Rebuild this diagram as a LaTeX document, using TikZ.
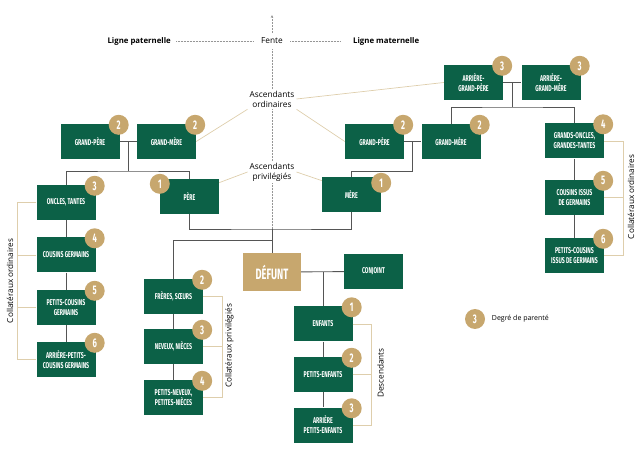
\documentclass[tikz,border=0pt]{standalone}
\usepackage{fontspec}
\setmainfont{Open Sans}
\newfontfamily\boxfont[FakeStretch=0.62]{Fira Sans}
\usepackage{tikz}
\usetikzlibrary{
  arrows.meta, positioning, calc
}
\usepackage{xcolor}
\definecolor{relgreen}{RGB}{12, 97, 71}
\definecolor{relgold}{RGB}{199, 167, 110}
\definecolor{relbeige}{RGB}{222, 206, 172}
\definecolor{relgray}{RGB}{85, 85, 85}
\definecolor{fentegray}{RGB}{150, 150, 150}
\newcommand{\boxtxt}{\boxfont\bfseries\fontsize{8.4}{10}\selectfont}
\tikzset{
  parent/.style={fill=relgreen, text=white, minimum width=59pt, minimum height=35pt,
                 inner sep=1pt, align=center, font=\boxtxt},
  defunt/.style={fill=relgold, text=white, minimum width=58pt, minimum height=38pt,
                 inner sep=1pt, font=\boxfont\bfseries\fontsize{15}{15}\selectfont},
  degre/.style={circle, fill=relgold, text=white, minimum size=20pt, inner sep=0pt,
                font=\boxfont\bfseries\fontsize{12.5}{12.5}\selectfont},
  lien/.style={draw=relgray, line width=0.9pt},
  accol/.style={draw=relbeige, line width=0.7pt},
  fente/.style={draw=fentegray, densely dotted, line width=0.5pt},
  etiq/.style={align=center, font=\fontsize{8.3}{9.8}\selectfont, inner sep=1pt},
  groupe/.style={rotate=90, font=\fontsize{8.2}{9}\selectfont, inner sep=1pt}
}

\begin{document}
\begin{tikzpicture}[x=1pt, y=-1pt]
    \useasboundingbox (0,0) rectangle (640,454);

    \node[etiq, font=\bfseries\fontsize{7.8}{9}\selectfont, anchor=east] (lpat) at (172,41) {Ligne paternelle};
    \node[etiq, inner xsep=7pt, inner ysep=5pt] (fente) at (272,41) {Fente};
    \node[etiq, font=\bfseries\fontsize{7.8}{9}\selectfont, anchor=west] (lmat) at (352,41) {Ligne maternelle};
    \coordinate (fleche) at (272,15);
    \node[etiq, inner sep=2pt] (asco) at (272,99) {Ascendants\\ordinaires};
    \node[etiq, inner sep=2pt] (ascp) at (272,172) {Ascendants\\privilégiés};

    \node[parent] (gpp) at (90,141.5) {GRAND-PÈRE};
    \node[parent] (gmp) at (166.5,141.5) {GRAND-MÈRE};
    \node[parent] (oncles) at (66,202.5) {ONCLES, TANTES};
    \node[parent] (cousins) at (66,255) {COUSINS GERMAINS};
    \node[parent] (pcousins) at (66,307.5) {PETITS-COUSINS\\GERMAINS};
    \node[parent] (apcousins) at (66,359.5) {ARRIÈRE-PETITS-\\COUSINS GERMAINS};
    \node[parent] (pere) at (189.5,196.5) {PÈRE};
    \node[parent] (mere) at (351.5,194.5) {MÈRE};
    \node[parent] (gpm) at (374.5,141.5) {GRAND-PÈRE};
    \node[parent] (gmm) at (451,141.5) {GRAND-MÈRE};
    \node[parent] (agp) at (473.5,82.5) {ARRIÈRE-\\GRAND-PÈRE};
    \node[parent] (agm) at (551,82.5) {ARRIÈRE-\\GRAND-MÈRE};
    \node[parent] (gotantes) at (574.5,141) {GRANDS-ONCLES,\\GRANDES-TANTES};
    \node[parent] (cissus) at (574.5,197.5) {COUSINS ISSUS\\DE GERMAINS};
    \node[parent] (pcissus) at (574.5,255.5) {PETITS-COUSINS\\ISSUS DE GERMAINS};
    \node[defunt] (defunt) at (272,272) {DÉFUNT};
    \node[parent] (conjoint) at (373.5,271.5) {CONJOINT};
    \node[parent] (freres) at (173.5,296.5) {FRÈRES, SŒURS};
    \node[parent] (neveux) at (173.5,346.5) {NEVEUX, NIÈCES};
    \node[parent] (pneveux) at (173.5,397.5) {PETITS-NEVEUX,\\PETITES-NIÈCES};
    \node[parent] (enfants) at (323,324) {ENFANTS};
    \node[parent] (penfants) at (323,374.5) {PETITS-ENFANTS};
    \node[parent] (apenfants) at (323,425) {ARRIÈRE\\PETITS-ENFANTS};

    \draw[fente, -{Stealth[length=3pt, width=2.6pt]}] (fente.north) -- (fleche);
    \draw[fente] (lpat.east) ++(4,0) -- (fente.west);
    \draw[fente] (fente.east) -- ([xshift=-12pt]lmat.west);
    \draw[fente] (fente.south) -- (asco.north);
    \draw[fente] (asco.south) -- (ascp.north);

    \coordinate (jpat) at ($(gpp.east)!.5!(gmp.west)+(0,29.5)$);
    \coordinate (jmat) at ($(gpm.east)!.5!(gmm.west)+(0,29.5)$);
    \coordinate (jarr) at ($(agp.east)!.5!(agm.west)+(0,24.5)$);
    \coordinate (jpm) at (272,229);
    \coordinate (jfr) at (272,240);
    \coordinate (jdc) at (enfants.north |- defunt.east);
    \draw[fente] (ascp.south) -- (jpm);

    \draw[lien] (gpp) -- (gmp);
    \draw[lien] ($(gpp.east)!.5!(gmp.west)$) -- (jpat);
    \draw[lien] (oncles.north) |- (jpat) -| (pere.north);
    \draw[lien] (gpm) -- (gmm);
    \draw[lien] ($(gpm.east)!.5!(gmm.west)$) -- (jmat);
    \draw[lien] (mere.north) |- (jmat);
    \draw[lien] (agp) -- (agm);
    \draw[lien] ($(agp.east)!.5!(agm.west)$) -- (jarr);
    \draw[lien] (gmm.north) |- (jarr) -| (gotantes.north);
    \draw[lien] (pere.south) |- (jpm) -| (mere.south);
    \draw[lien] (jpm) -- (defunt.north);
    \draw[lien] (freres.north) |- (jfr);
    \draw[lien] (defunt) -- (conjoint);
    \draw[lien] (jdc) -- (enfants.north);
    \foreach \a/\b in {oncles/cousins, cousins/pcousins, pcousins/apcousins,
                       freres/neveux, neveux/pneveux, enfants/penfants,
                       penfants/apenfants, gotantes/cissus, cissus/pcissus}
      \draw[lien] (\a) -- (\b);

    \draw[accol] (asco.south west) -- (gmp.east);
    \draw[accol] (asco.east) -- (agp.west);
    \draw[accol] (asco.south east) -- (gpm.west);
    \draw[accol] (ascp.west) -- (pere.25);
    \draw[accol] (ascp.east) -- (mere.155);

    \draw[accol] (oncles.west) -- ++(-19,0) coordinate (cg) |- (apcousins.west);
    \draw[accol] (cousins.west) -- (cousins.west -| cg);
    \draw[accol] (pcousins.west) -- (pcousins.west -| cg);
    \node[groupe] (colg) at (10,281) {Collatéraux ordinaires};

    \draw[accol] (freres.east) -- ++(19,0) coordinate (cp) |- (pneveux.east);
    \draw[accol] (neveux.east) -- (neveux.east -| cp);
    \node[groupe] (colp) at (229.5,346) {Collatéraux privilégiés};

    \draw[accol] (enfants.east) -- ++(19,0) coordinate (cd) |- (apenfants.east);
    \draw[accol] (penfants.east) -- (penfants.east -| cd);
    \node[groupe] (desc) at (380.5,373) {Descendants};

    \draw[accol] (gotantes.east) -- ++(19,0) coordinate (cr) |- (pcissus.east);
    \draw[accol] (cissus.east) -- (cissus.east -| cr);
    \node[groupe] (cold) at (631,197) {Collatéraux ordinaires};

    \foreach \b/\n in {gpp/2, gmp/2, oncles/3, cousins/4, pcousins/5, apcousins/6,
                       gpm/2, gmm/2, agp/3, agm/3, gotantes/4, cissus/5, pcissus/6,
                       freres/2, neveux/3, pneveux/4, enfants/1, penfants/2, apenfants/3}
      \node[degre] (d-\b) at ($(\b.north east)+(-1,1)$) {\n};
    \node[degre] (d-pere) at ($(pere.north west)+(0,5)$) {1};
    \node[degre] (d-mere) at ($(mere.north east)+(0,6)$) {1};

    \node[degre] (leg) at (475,319) {3};
    \node[right=6.5pt of leg, font=\fontsize{7}{8}\selectfont, inner sep=0pt] (legtxt) {Degré de parenté};
\end{tikzpicture}
\end{document}
